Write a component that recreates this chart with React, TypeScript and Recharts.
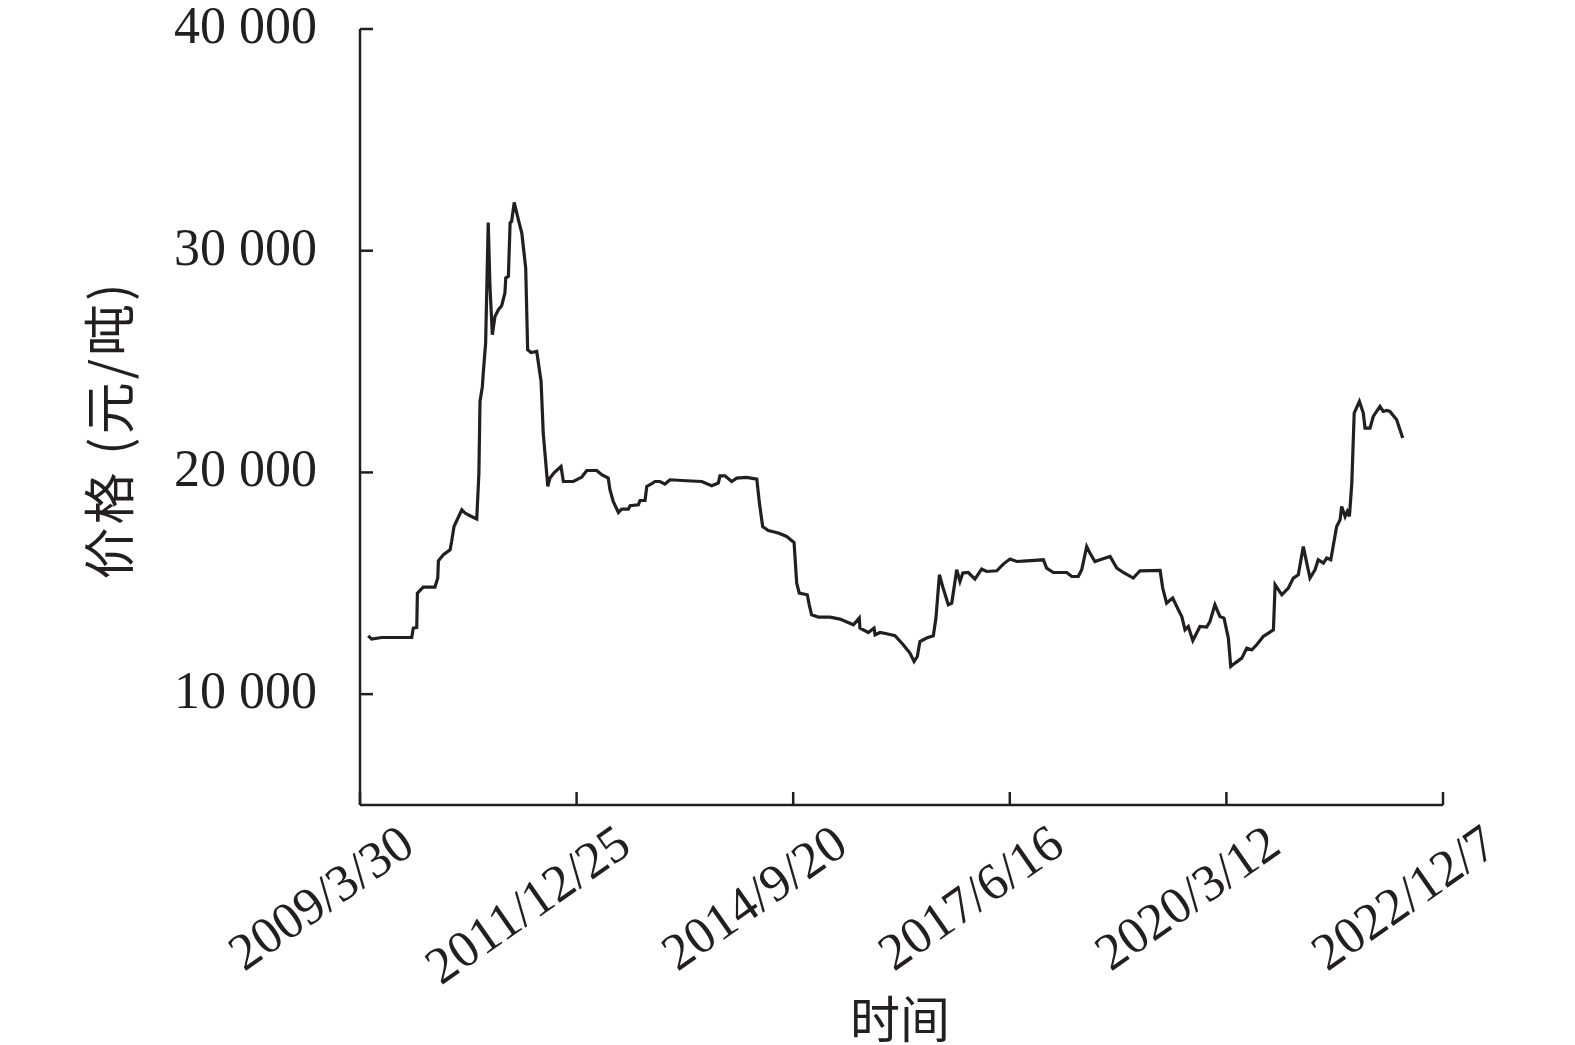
import { Label, Line, LineChart, XAxis, YAxis } from "recharts";

// days counted from 2009/3/30, price in 元/吨
const DAYS = [
  38, 54, 100, 239, 246, 262, 265, 292, 346, 359, 362, 385, 416, 423, 434, 470, 485, 508, 539, 549,
  554, 565, 569, 580, 592, 600, 611, 623, 639, 654, 669, 673, 685, 693, 700, 712, 731, 747, 765, 774,
  790, 816, 836, 846, 867, 877, 897, 928, 939, 985,
  1024, 1047, 1093, 1116, 1146, 1154, 1169, 1193, 1208, 1239, 1247, 1285, 1293, 1316, 1324, 1347,
  1362, 1385, 1408, 1431, 1508, 1578, 1624, 1654, 1662, 1685, 1716, 1739, 1785, 1832, 1844, 1859,
  1885, 1931, 1970, 2004, 2016, 2028, 2065, 2074, 2085, 2116,
  2170, 2216, 2278, 2305, 2308, 2347, 2373, 2378, 2401, 2432, 2470, 2508, 2539, 2558, 2573, 2585,
  2616, 2647, 2659, 2675, 2690, 2716, 2732, 2755, 2770, 2783, 2808, 2839, 2870, 2893, 2940, 2970,
  3001, 3032, 3078, 3155, 3170, 3201, 3263, 3286, 3316, 3332, 3355, 3370, 3393, 3417, 3463, 3494,
  3524, 3570, 3601, 3694, 3706, 3724, 3752, 3778, 3794, 3809, 3824, 3845, 3878, 3909, 3924, 3947,
  3970, 3989, 4009, 4020, 4040, 4071, 4094, 4117, 4140, 4170, 4194, 4217, 4225, 4256, 4286, 4309,
  4332, 4355, 4371, 4386, 4409, 4424, 4448, 4463, 4482, 4509, 4525, 4532, 4548, 4558, 4568, 4579,
  4590, 4614, 4632, 4640, 4663, 4678, 4709, 4724, 4740, 4755, 4786, 4814,
];

const PRICES = [
  12632, 12483, 12555, 12555, 12979, 13006, 14558, 14829, 14829, 15235, 16015, 16286, 16511, 16886,
  17562, 18316, 18167, 18045, 17896, 19971, 23201, 23878, 24482, 25835, 31276, 28389, 26210, 27035,
  27338, 27518, 28091, 28768, 28840, 31249, 31321, 32178, 31397, 30798, 29219, 25533, 25411, 25457,
  24103, 21776, 19367, 19746, 19998, 20269, 19592, 19592,
  19791, 20088, 20088, 19894, 19746, 19218, 18690, 18194, 18347, 18347, 18496, 18541, 18735, 18735,
  19367, 19489, 19592, 19592, 19475, 19669, 19624, 19592, 19398, 19520, 19849, 19849, 19592, 19746,
  19773, 19700, 18618, 17562, 17382, 17265, 17111, 16840, 15009, 14558, 14481, 14030, 13579, 13475,
  13475, 13385, 13128, 13430, 12979, 12781, 12979, 12677, 12781, 12722, 12632, 12226, 11851, 11472,
  11698, 12375, 12528, 12632, 13430, 15383, 14856, 14030, 14107, 15609, 15081, 15460, 15487, 15189,
  15641, 15532, 15564, 15866, 16092, 15983, 16015, 16060, 15686, 15487, 15487, 15307, 15307, 15609,
  16660, 16362, 15983, 16060, 16209, 15686, 15487, 15235, 15564, 15577, 14784, 14107, 14332, 13804,
  13502, 12902, 13051, 12420, 13051, 13024, 13277, 14030, 13502, 13430, 12528, 11247, 11400, 11626,
  12077, 12000, 12226, 12600, 12754, 12902, 14932, 14481, 14784, 15235, 15383, 16660, 15911, 15235,
  15609, 16060, 15911, 16137, 16060, 17562, 17865, 18464, 18013, 18239, 18013, 19520, 22678, 23201,
  22678, 22001, 22001, 22524, 22975, 22750, 22795, 22750, 22375, 21550,
];

const X_TICKS = [0, 1000, 2000, 3000, 4000, 5000];
const X_TICK_LABELS = ["2009/3/30", "2011/12/25", "2014/9/20", "2017/6/16", "2020/3/12", "2022/12/7"];
const Y_TICKS = [10000, 20000, 30000, 40000];

const INK = "#231f20";
const SERIF = "'Liberation Serif', 'Times New Roman', 'Noto Sans CJK SC', serif";
const CJK = "'Noto Sans CJK SC', 'Liberation Serif', sans-serif";

const rows = DAYS.map((day, i) => ({ day, price: PRICES[i] }));

const fmtY = (v: number) => `${Math.floor(v / 1000)} ${String(v % 1000).padStart(3, "0")}`;

function YTick({ x, y, payload }: any) {
  return (
    <g>
      <line x1={x} x2={x + 13} y1={y} y2={y} stroke={INK} strokeWidth={2.5} />
      <text x={x - 43} y={y} dy={14} textAnchor="end" fontSize={52} fontFamily={SERIF} fill={INK}>
        {fmtY(payload.value)}
      </text>
    </g>
  );
}

function XTick({ x, y, payload }: any) {
  const i = X_TICKS.indexOf(payload.value);
  const tx = x + 57;
  const ty = y + 46;
  return (
    <g>
      <line x1={x} x2={x} y1={y} y2={y - 13} stroke={INK} strokeWidth={2.5} />
      <text
        x={tx}
        y={ty}
        transform={`rotate(-35, ${tx}, ${ty})`}
        textAnchor="end"
        fontSize={52}
        fontFamily={SERIF}
        fill={INK}
      >
        {X_TICK_LABELS[i]}
      </text>
    </g>
  );
}

export default function App() {
  return (
    <div style={{ position: "absolute", top: 0, left: 0, background: "#fff" }}>
      <LineChart
        width={1575}
        height={1045}
        data={rows}
        margin={{ top: 29, right: 132, left: 0, bottom: 0 }}
      >
        <XAxis
          dataKey="day"
          type="number"
          domain={[0, 5000]}
          ticks={X_TICKS}
          interval={0}
          height={240}
          tickSize={0}
          tickMargin={0}
          tickLine={false}
          axisLine={{ stroke: INK, strokeWidth: 2.5 }}
          tick={<XTick />}
        >
          <Label
            content={() => (
              <text x={900} y={1016} textAnchor="middle" dominantBaseline="central" fontSize={50} fontFamily={CJK} fill={INK}>
                时间
              </text>
            )}
          />
        </XAxis>
        <YAxis
          type="number"
          domain={[5000, 40000]}
          ticks={Y_TICKS}
          interval={0}
          width={360}
          tickSize={0}
          tickMargin={0}
          tickLine={false}
          axisLine={{ stroke: INK, strokeWidth: 2.5 }}
          tick={<YTick />}
        >
          <Label
            content={() => (
              <text
                x={106}
                y={430}
                transform="rotate(-90, 106, 430)"
                textAnchor="middle"
                dominantBaseline="central"
                fontSize={52}
                fontFamily={CJK}
                letterSpacing={3}
                fill={INK}
              >
                价格 (元/吨)
              </text>
            )}
          />
        </YAxis>
        <Line
          type="linear"
          dataKey="price"
          stroke={INK}
          strokeWidth={3.2}
          dot={false}
          activeDot={false}
          isAnimationActive={false}
        />
      </LineChart>
    </div>
  );
}
